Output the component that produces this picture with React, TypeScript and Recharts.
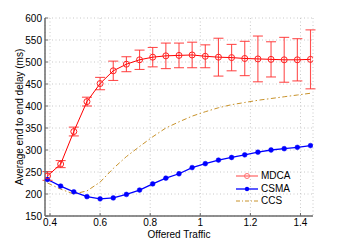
import React from 'react';
import { LineChart, Line, XAxis, YAxis, CartesianGrid, ErrorBar } from 'recharts';

const offeredTraffic = [0.39, 0.4425, 0.495, 0.5475, 0.6, 0.6525, 0.705, 0.7575, 0.81, 0.8625, 0.915, 0.9675, 1.02, 1.0725, 1.125, 1.1775, 1.23, 1.2825, 1.335, 1.3875, 1.44];
const mdca = [241, 268, 342, 410, 451, 480, 495, 505, 511, 514, 515, 516, 513, 511, 510, 508, 507, 506, 505, 505, 506];
const mdcaErr = [10, 8, 10, 10, 14, 22, 17, 22, 22, 29, 28, 29, 26, 43, 30, 39, 52, 40, 51, 48, 67];
const csma = [233, 218, 205, 194, 189, 191, 199, 209, 223, 236, 246, 260, 269, 277, 283, 289, 295, 300, 303, 306, 310];
const ccs = [225, 211, 200, 207, 227, 258, 285, 308, 330, 350, 364, 377, 387, 396, 403, 408, 413, 417, 421, 425, 429];
const xTicks = [0.4, 0.6, 0.8, 1, 1.2, 1.4];
const yTicks = [150, 200, 250, 300, 350, 400, 450, 500, 550, 600];

const data = offeredTraffic.map((x, i) => ({ x, mdca: mdca[i], err: mdcaErr[i], csma: csma[i], ccs: ccs[i] }));

const FONT = 'Liberation Sans, Arial, sans-serif';
const AXIS = '#6b6b6b';

const legendItems = [
  { name: 'MDCA', color: '#ff7070', kind: 'circle' },
  { name: 'CSMA', color: '#0000ff', kind: 'dot' },
  { name: 'CCS', color: '#c8922a', kind: 'dash' },
];

const LegendBox = () => (
  <div style={{ position: 'absolute', left: 236, top: 170, fontFamily: FONT, fontSize: 10, color: '#000', lineHeight: '12.5px' }}>
    {legendItems.map((it) => (
      <div key={it.name} style={{ display: 'flex', alignItems: 'center', height: 12.5 }}>
        <svg width={24} height={10} style={{ marginRight: 1 }}>
          <line x1={0} y1={5} x2={22} y2={5} stroke={it.color} strokeWidth={it.kind === 'dash' ? 1 : 1.3} strokeDasharray={it.kind === 'dash' ? '4 2 1 2' : undefined} />
          {it.kind === 'circle' && <circle cx={11} cy={5} r={2.5} fill="none" stroke={it.color} strokeWidth={1} />}
          {it.kind === 'dot' && <circle cx={11} cy={5} r={2.2} fill={it.color} />}
        </svg>
        <span>{it.name}</span>
      </div>
    ))}
  </div>
);

export default function App() {
  return (
    <div style={{ position: 'absolute', left: 0, top: 0, width: 346, height: 243, background: '#fff' }}>
      <LineChart width={346} height={243} data={data} margin={{ top: 18, right: 33, bottom: 0, left: 0 }}>
        <CartesianGrid stroke="#c8c8c8" strokeDasharray="1 2.5" />
        <XAxis
          dataKey="x"
          type="number"
          domain={[0.38, 1.45]}
          ticks={xTicks}
          interval={0}
          allowDataOverflow
          tickFormatter={(v: number) => String(v)}
          stroke={AXIS}
          strokeWidth={1.5}
          tickLine={{ stroke: AXIS, strokeWidth: 1 }}
          tickSize={-3}
          tick={{ fill: '#000', fontSize: 10, fontFamily: FONT }}
          tickMargin={6}
          height={27}
          label={{ value: 'Offered Traffic', position: 'insideBottom', offset: 5, fill: '#000', fontSize: 10, fontFamily: FONT }}
        />
        <XAxis xAxisId="top" orientation="top" dataKey="x" type="number" domain={[0.38, 1.45]} ticks={xTicks} interval={0} tick={false} tickSize={-3} tickLine={{ stroke: AXIS, strokeWidth: 1 }} stroke={AXIS} strokeWidth={1.5} height={0} />
        <YAxis
          type="number"
          domain={[150, 600]}
          ticks={yTicks}
          interval={0}
          width={45}
          stroke={AXIS}
          strokeWidth={1.5}
          tickLine={{ stroke: AXIS, strokeWidth: 1 }}
          tickSize={-3}
          tick={{ fill: '#000', fontSize: 10, fontFamily: FONT }}
          tickMargin={6}
          label={{ value: 'Average end to end delay (ms)', angle: -90, position: 'insideLeft', offset: 19, style: { textAnchor: 'middle' }, fill: '#000', fontSize: 10, fontFamily: FONT }}
        />
        <YAxis yAxisId="right" orientation="right" domain={[150, 600]} ticks={yTicks} interval={0} tick={false} tickSize={-3} tickLine={{ stroke: AXIS, strokeWidth: 1 }} stroke={AXIS} strokeWidth={1.5} width={0} />
        <Line
          dataKey="ccs"
          stroke="#c8922a"
          strokeWidth={1}
          strokeDasharray="5 2.5 1.5 2.5"
          dot={false}
          isAnimationActive={false}
        />
        <Line
          dataKey="csma"
          stroke="#0000ff"
          strokeWidth={1.3}
          dot={{ r: 2.4, fill: '#0000ff', stroke: '#0000ff', strokeWidth: 0.5 }}
          isAnimationActive={false}
        />
        <Line
          dataKey="mdca"
          stroke="#ff0000"
          strokeWidth={1}
          dot={{ r: 3, fill: 'none', stroke: '#ff2020', strokeWidth: 1 }}
          isAnimationActive={false}
        >
          <ErrorBar dataKey="err" direction="y" width={5} stroke="#ff3030" strokeWidth={1.1} strokeOpacity={0.85} isAnimationActive={false} />
        </Line>
      </LineChart>
      <LegendBox />
    </div>
  );
}
